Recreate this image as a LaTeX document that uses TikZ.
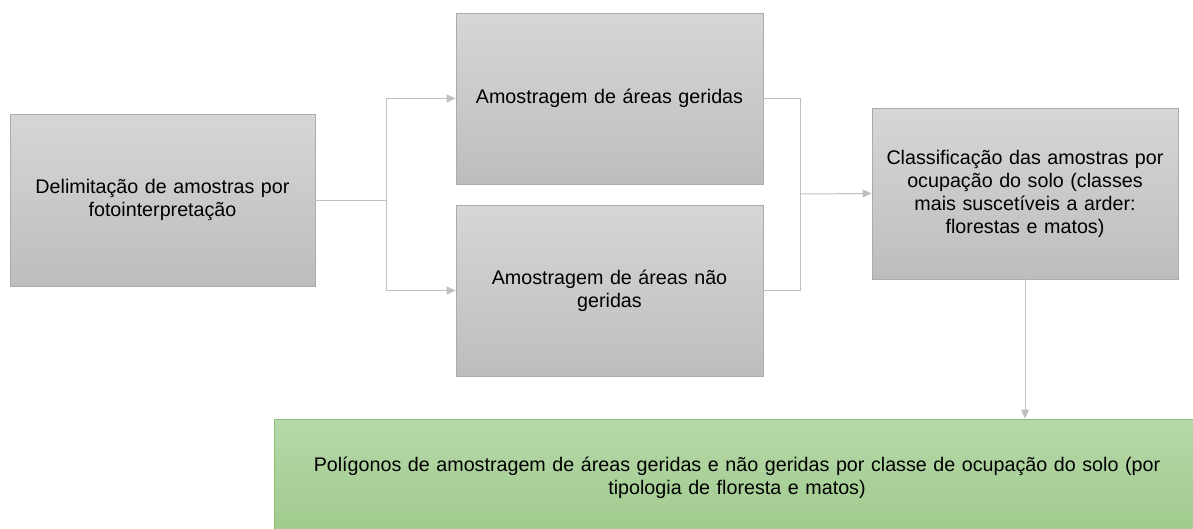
\documentclass[tikz,border=0pt]{standalone}
\usepackage{fontspec}
\setmainfont{Liberation Sans}
\usetikzlibrary{arrows.meta}
\definecolor{grayT}{HTML}{D6D6D6}
\definecolor{grayB}{HTML}{BDBDBD}
\definecolor{grayE}{HTML}{ABABAB}
\definecolor{greenT}{HTML}{B6D8A9}
\definecolor{greenB}{HTML}{A0CA8C}
\definecolor{greenE}{HTML}{8CBF78}
\definecolor{lineC}{HTML}{BFBFBF}
\tikzset{
  graybox/.style={draw=grayE, line width=0.8pt, top color=grayT, bottom color=grayB,
    align=center, font=\fontsize{19.7}{23}\selectfont, inner sep=0pt},
  greenbox/.style={draw=greenE, line width=0.8pt, top color=greenT, bottom color=greenB,
    align=center, font=\fontsize{19.7}{23}\selectfont, inner sep=0pt},
  conn/.style={draw=lineC, line width=1pt},
  arr/.style={conn, -{Triangle[length=9pt,width=8pt,fill=lineC]}},
}
\begin{document}
\begin{tikzpicture}[x=1pt,y=-1pt]
\useasboundingbox (0,0) rectangle (1193,528);
\fill[white] (0,0) rectangle (1193,528);
\clip (0,0) rectangle (1193,528);
\node[graybox, minimum width=305pt, minimum height=172pt, text width=295pt] (b1) at (162.5,200) {Delimitação de amostras por\\fotointerpretação};
\node[graybox, minimum width=307pt, minimum height=171pt, text width=295pt] (b2) at (609.5,98.5) {Amostragem de áreas geridas};
\node[graybox, minimum width=307pt, minimum height=171pt, text width=295pt] (b3) at (609.5,290.5) {Amostragem de áreas não\\geridas};
\node[graybox, minimum width=306pt, minimum height=171pt, text width=300pt] (b4) at (1025,193.5) {Classificação das amostras por\\ocupação do solo (classes\\mais suscetíveis a arder:\\florestas e matos)};
\node[greenbox, minimum width=926pt, minimum height=118pt, text width=910pt] (b5) at (737,478) {Polígonos de amostragem de áreas geridas e não geridas por classe de ocupação do solo (por\\tipologia de floresta e matos)};
\coordinate (j1) at (386,200);
\coordinate (j2) at (800,194);
\draw[conn] (b1.east) -- (j1);
\draw[arr] (j1) |- (b2.west);
\draw[arr] (j1) |- (b3.west);
\draw[conn] (b2.east) -| (j2);
\draw[conn] (b3.east) -| (j2);
\draw[arr] (j2) -- (b4.west);
\draw[arr] (b4.south) -- (b4.south |- b5.north);
\end{tikzpicture}
\end{document}
